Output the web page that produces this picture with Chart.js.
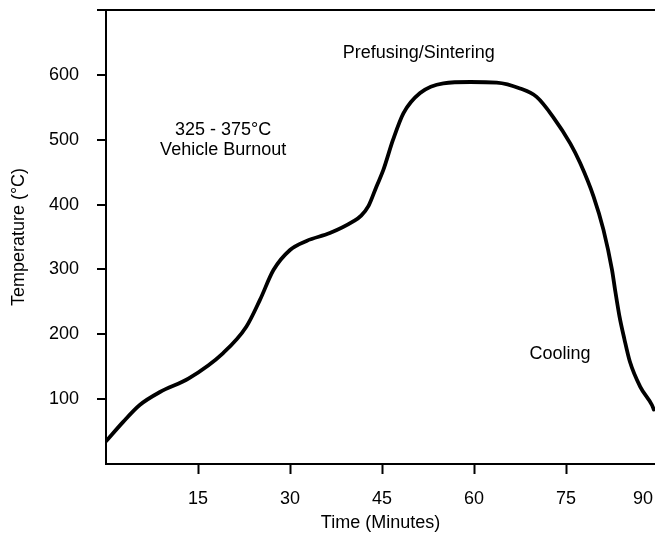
<!DOCTYPE html>
<html>
<head>
<meta charset="utf-8">
<script src="https://cdn.jsdelivr.net/npm/chart.js@4/dist/chart.umd.min.js"></script>
<style>
  html, body { margin: 0; padding: 0; background: #fff; overflow: hidden; }
  #wrap { width: 655px; height: 538px; position: relative; }
</style>
</head>
<body>
<div id="wrap"><canvas id="c"></canvas></div>
<script>
// ---- data ----
const timeMinutes = [0, 2.8, 5.5, 8.8, 13.5, 19.1, 22.9, 25.1, 27.3, 30.0, 32.7, 36.5, 40.3, 41.6, 42.8, 44.1, 45.2, 46.8, 48.5, 51.2, 55.0, 59.4, 63.7, 67.5, 70.2, 72.9, 75.7, 77.3, 79.5, 81.1, 82.5, 83.0, 83.7, 84.5, 85.4, 87.1, 89.0, 89.3];
const temperatureC = [35, 65, 91, 111, 132, 171, 212, 253, 299, 330, 344, 356, 374, 383, 398, 428, 453, 500, 541, 572, 587, 589, 588, 579, 566, 535, 494, 464, 412, 361, 299, 268, 228, 193, 158, 119, 91, 84];
const xTickValues = [15, 30, 45, 60, 75, 90];
const yTickValues = [100, 200, 300, 400, 500, 600];
const xTitle = 'Time (Minutes)';
const yTitle = 'Temperature (°C)';
const noteTexts = ['325 - 375°C', 'Vehicle Burnout', 'Prefusing/Sintering', 'Cooling'];
const noteTimes = [19.1, 19.1, 51.0, 74.0];
const noteTemps = [507, 476, 626, 162];

const FONT = '"Liberation Sans", Arial, Helvetica, sans-serif';
const FS = 18;
const X_MAX = 89.5;
const Y_MAX = 700;

const points = timeMinutes.map((t, i) => ({ x: t, y: temperatureC[i] }));

const labelPlugin = {
  id: 'labels',
  afterDraw(chart) {
    const ctx = chart.ctx;
    const xs = chart.scales.x, ys = chart.scales.y;
    ctx.save();
    ctx.fillStyle = '#000';
    ctx.font = FS + 'px ' + FONT;
    ctx.textAlign = 'center';
    ctx.textBaseline = 'alphabetic';
    xTickValues.forEach(v => {
      const txt = String(v);
      const w = ctx.measureText(txt).width;
      let px = xs.getPixelForValue(v);
      px = Math.min(px, chart.width - w / 2 - 2);
      ctx.fillText(txt, px, xs.top + 40);
    });
    noteTexts.forEach((txt, i) => {
      ctx.fillText(txt, xs.getPixelForValue(noteTimes[i]), ys.getPixelForValue(noteTemps[i]));
    });
    ctx.restore();
  }
};

function noPad(s) { s.paddingTop = 0; s.paddingBottom = 0; s.paddingLeft = 0; s.paddingRight = 0; }

new Chart(document.getElementById('c'), {
  type: 'line',
  data: {
    datasets: [{
      data: points,
      borderColor: '#000',
      borderWidth: 3.8,
      pointRadius: 0,
      fill: false,
      cubicInterpolationMode: 'monotone',
      borderCapStyle: 'round',
      borderJoinStyle: 'round'
    }]
  },
  options: {
    responsive: true,
    maintainAspectRatio: false,
    animation: false,
    devicePixelRatio: 1,
    layout: { padding: { top: 10, right: 0, left: 0, bottom: 0 } },
    plugins: { legend: { display: false }, tooltip: { enabled: false } },
    scales: {
      x: {
        type: 'linear',
        min: 0,
        max: X_MAX,
        afterBuildTicks: (s) => { s.ticks = xTickValues.filter(v => v <= X_MAX).map(v => ({ value: v })); },
        afterFit: (s) => { s.height = 74; noPad(s); },
        ticks: { display: false },
        grid: { drawOnChartArea: false, drawTicks: true, tickLength: 10, tickWidth: 2, tickColor: '#000' },
        border: { display: true, color: '#000', width: 2 },
        title: {
          display: true, text: xTitle, color: '#000',
          font: { family: FONT, size: FS }, padding: { top: 0, bottom: 4 }
        }
      },
      y: {
        type: 'linear',
        min: 0,
        max: Y_MAX,
        afterBuildTicks: (s) => { s.ticks = yTickValues.concat([Y_MAX]).map(v => ({ value: v })); },
        afterFit: (s) => { s.width = 106; noPad(s); },
        ticks: {
          color: '#000',
          font: { family: FONT, size: FS },
          padding: 18,
          callback: (v) => (yTickValues.includes(v) ? String(v) : '')
        },
        grid: {
          drawOnChartArea: true,
          color: (c) => (c.tick && c.tick.value === Y_MAX ? '#000' : 'rgba(0,0,0,0)'),
          lineWidth: 2,
          tickLength: 9,
          tickWidth: 2,
          tickColor: '#000'
        },
        border: { display: true, color: '#000', width: 2 },
        title: {
          display: true, text: yTitle, color: '#000',
          font: { family: FONT, size: FS }, padding: { top: 8, bottom: 0 }
        }
      }
    }
  },
  plugins: [labelPlugin]
});
</script>
</body>
</html>
